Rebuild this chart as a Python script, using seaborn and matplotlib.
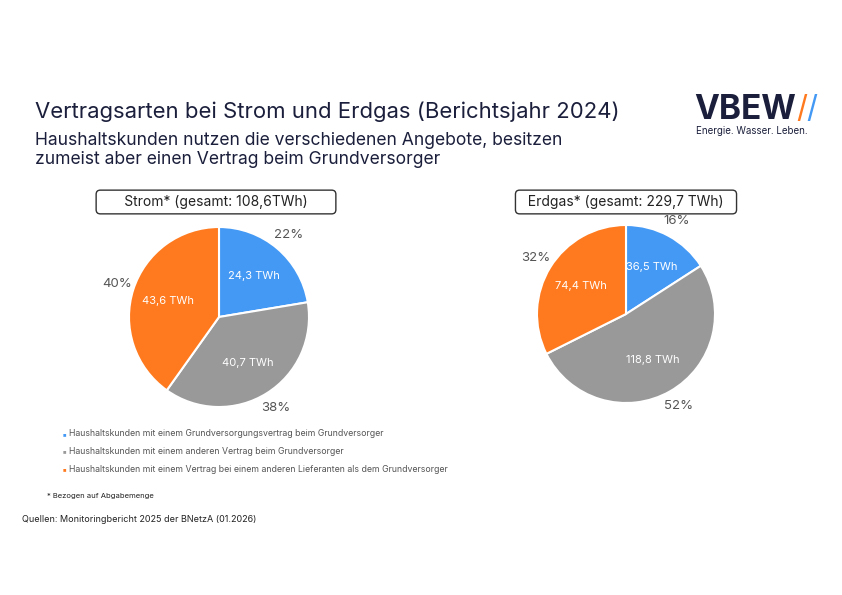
import numpy as np
import matplotlib
matplotlib.use("Agg")
import matplotlib.pyplot as plt
import seaborn as sns

sns.set_theme(style="white")
plt.rcParams["font.family"] = ["Inter", "DejaVu Sans"]

categories = ["Haushaltskunden mit einem Grundversorgungsvertrag beim Grundversorger",
              "Haushaltskunden mit einem anderen Vertrag beim Grundversorger",
              "Haushaltskunden mit einem Vertrag bei einem anderen Lieferanten als dem Grundversorger"]
strom_twh = [24.3, 40.7, 43.6]
strom_pct = ["22%", "38%", "40%"]
gas_twh = [36.5, 118.8, 74.4]
gas_pct = ["16%", "52%", "32%"]
colors = ["#4499F5", "#999999", "#FF7A1E"]
dark = "#1B1F3B"

W, H = 842, 595
fig = plt.figure(figsize=(W / 100, H / 100), dpi=100)
fig.patch.set_facecolor("white")


def px(x, y):
    return x / W, 1 - y / H


def draw_pie(cx, cy, r, vals, pcts):
    ax = fig.add_axes([(cx - r) / W, (H - cy - r) / H, 2 * r / W, 2 * r / H])
    wedges, _ = ax.pie(vals, colors=colors, startangle=90, counterclock=False,
                       wedgeprops=dict(edgecolor="white", linewidth=1.5))
    for w, v, p in zip(wedges, vals, pcts):
        a = np.deg2rad((w.theta1 + w.theta2) / 2)
        ax.text(0.6 * np.cos(a), 0.6 * np.sin(a), f"{v:.1f} TWh".replace(".", ","),
                ha="center", va="center", color="white", fontsize=8)
        ax.text(1.19 * np.cos(a), 1.19 * np.sin(a), p,
                ha="center", va="center", color="#555555", fontsize=9.5)
    ax.set_xlim(-1, 1)
    ax.set_ylim(-1, 1)
    ax.set_aspect("equal")
    ax.axis("off")


draw_pie(219, 317, 90, strom_twh, strom_pct)
draw_pie(626, 314, 89, gas_twh, gas_pct)

box = dict(boxstyle="round,pad=0.35,rounding_size=0.3", fc="white", ec="#333333", lw=1)
fig.text(*px(216, 202), "      Strom* (gesamt: 108,6TWh)      ", ha="center", va="center",
         fontsize=10, color="#222222", bbox=box)
fig.text(*px(626, 202), "  Erdgas* (gesamt: 229,7 TWh)  ", ha="center", va="center",
         fontsize=10, color="#222222", bbox=box)

fig.text(*px(35, 112), "Vertragsarten bei Strom und Erdgas (Berichtsjahr 2024)",
         ha="left", va="center", fontsize=15.9, color=dark)
fig.text(*px(35, 150), "Haushaltskunden nutzen die verschiedenen Angebote, besitzen\nzumeist aber einen Vertrag beim Grundversorger",
         ha="left", va="center", fontsize=12.6, color=dark, linespacing=1.15)

# logo
fig.text(*px(694, 110), "VBEW", ha="left", va="center", fontsize=24, fontweight="bold", color=dark)
fig.text(*px(796, 110), "/", ha="left", va="center", fontsize=22, color="#FF7A1E")
fig.text(*px(806, 110), "/", ha="left", va="center", fontsize=22, color="#4499F5")
fig.text(*px(752, 131), "Energie. Wasser. Leben.", ha="center", va="center", fontsize=7, color=dark)

for i, (c, lab) in enumerate(zip(colors, categories)):
    y = 434 + i * 17.5
    fig.text(*px(62, y), "\u25aa", ha="left", va="center", fontsize=7, color=c)
    fig.text(*px(69, y), lab, ha="left", va="center", fontsize=6.3, color="#555555")

fig.text(*px(47, 496), "* Bezogen auf Abgabemenge", ha="left", va="center", fontsize=5.5, color="#222222")
fig.text(*px(22, 520), "Quellen: Monitoringbericht 2025 der BNetzA (01.2026)", ha="left", va="center",
         fontsize=6.5, color="#222222")

fig.savefig("out.png", dpi=100, facecolor="white")
